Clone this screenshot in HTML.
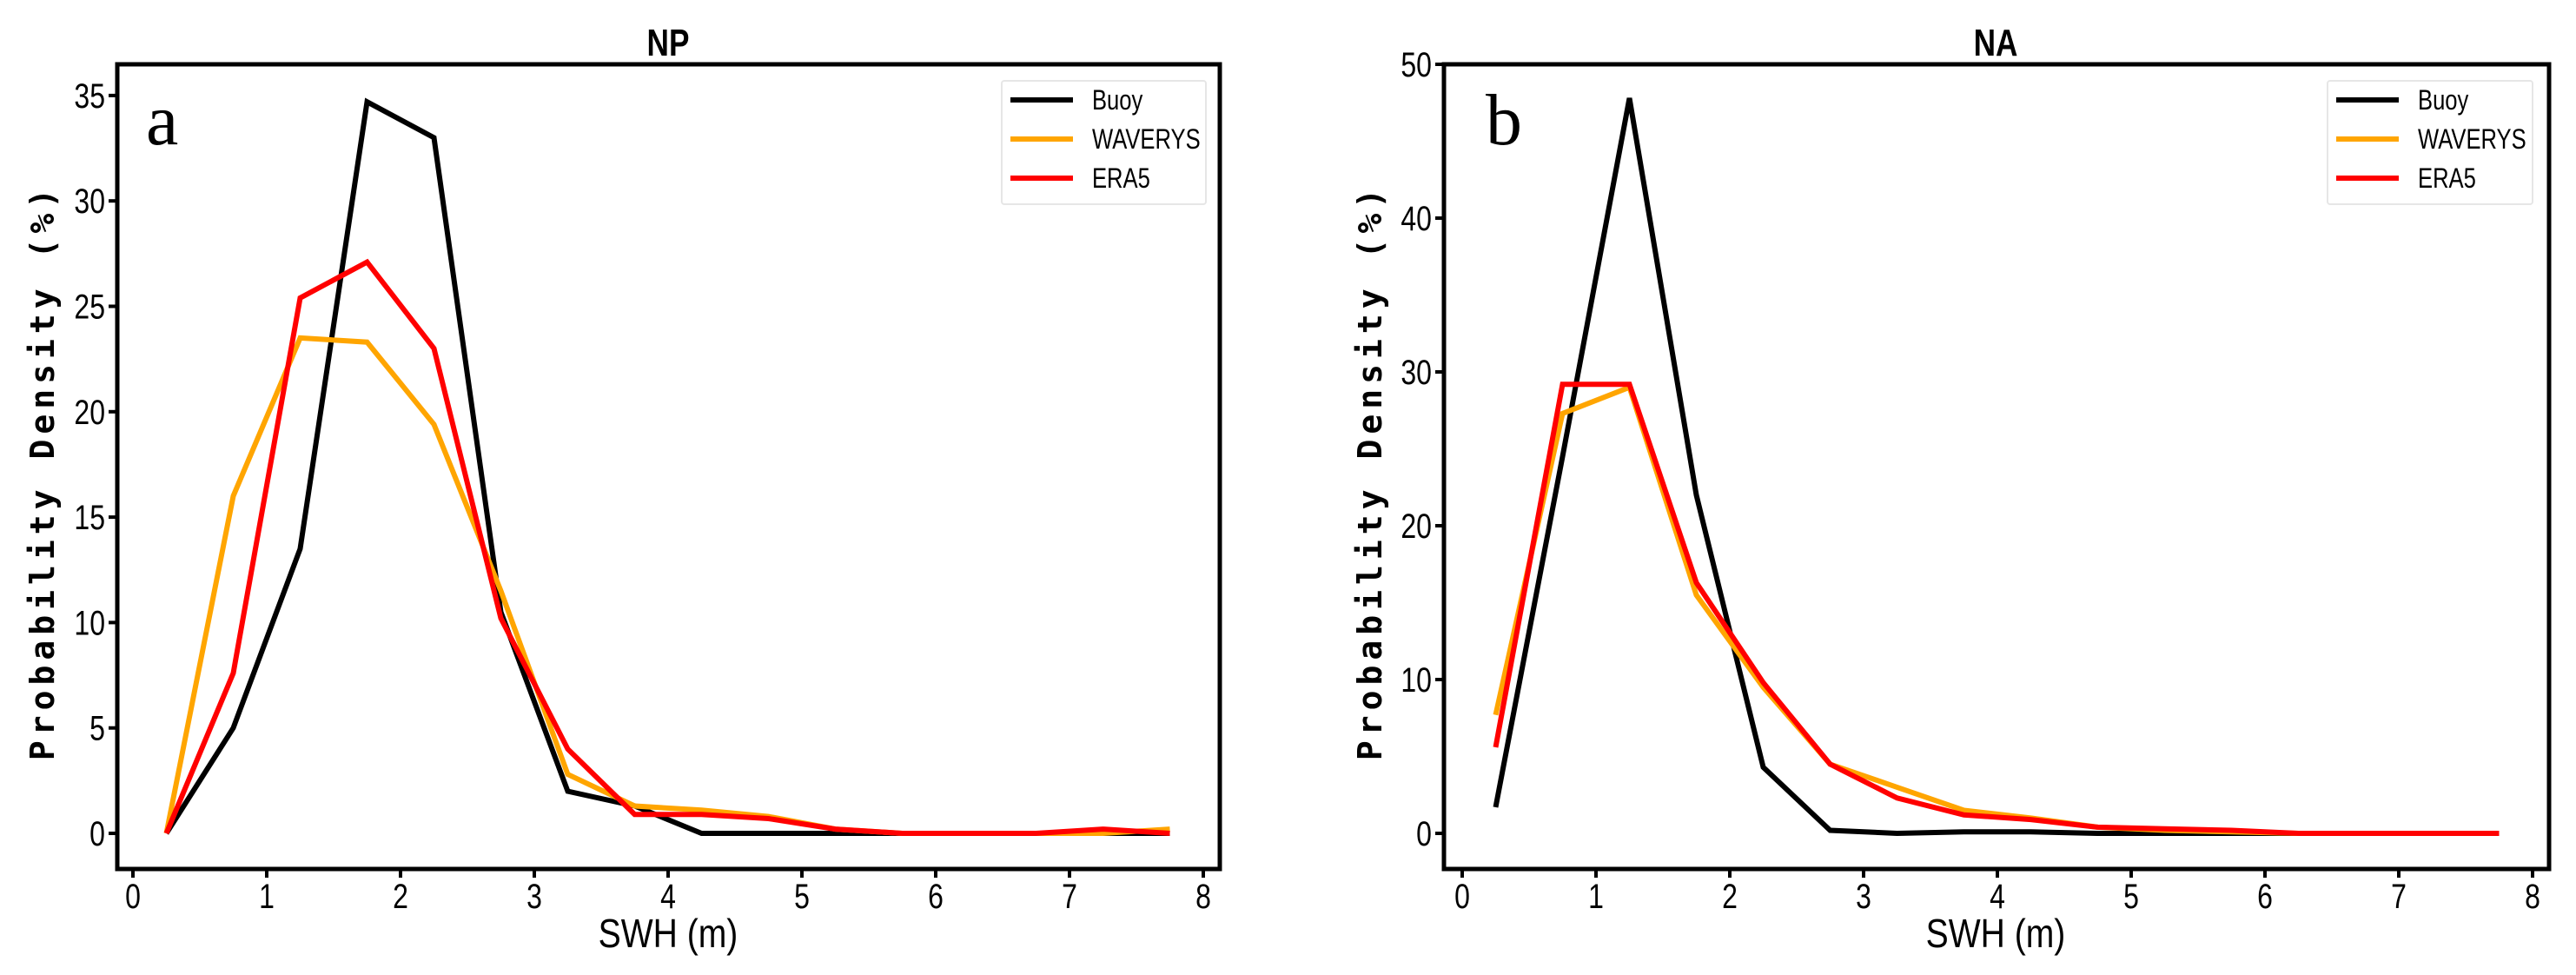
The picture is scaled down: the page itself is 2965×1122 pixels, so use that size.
<!DOCTYPE html>
<html><head><meta charset="utf-8"><style>
html,body{margin:0;padding:0;background:#fff;}
svg{display:block;}
</style></head><body>
<svg id="chart" width="2965" height="1122" xmlns="http://www.w3.org/2000/svg"></svg>
<script>
const xValues = [0.25,0.75,1.25,1.75,2.25,2.75,3.25,3.75,4.25,4.75,5.25,5.75,6.25,6.75,7.25,7.75];
const npBuoy = [0,5,13.5,34.7,33,10.5,2,1.3,0,0,0,0,0,0,0,0];
const npWaverys = [0,16,23.5,23.3,19.4,11.5,2.8,1.3,1.1,0.8,0.2,0,0,0,0,0.2];
const npEra5 = [0,7.6,25.4,27.1,23,10.2,4,0.9,0.9,0.7,0.2,0,0,0,0.2,0];
const naBuoy = [1.7,24.5,47.8,22,4.3,0.2,0,0.1,0.1,0,0,0,0,0,0,0];
const naWaverys = [7.7,27.3,29,15.5,9.5,4.5,3,1.5,1,0.4,0.2,0.1,0,0,0,0];
const naEra5 = [5.6,29.2,29.2,16.3,9.8,4.5,2.3,1.2,0.9,0.4,0.3,0.2,0,0,0,0];
const xTicks = [0,1,2,3,4,5,6,7,8];
const npYTicks = [0,5,10,15,20,25,30,35];
const naYTicks = [0,10,20,30,40,50];
const seriesNames = ["Buoy","WAVERYS","ERA5"];
const seriesColors = ["#000000","#FFA500","#FF0000"];

const NS="http://www.w3.org/2000/svg";
const svg=document.getElementById('chart');
function mk(tag,attrs,parent){const e=document.createElementNS(NS,tag);for(const k in attrs)e.setAttribute(k,attrs[k]);(parent||svg).appendChild(e);return e;}
const tickFont='"Liberation Sans Narrow","Liberation Sans",sans-serif';

function panel(cfg){
  const g=mk('g',{});
  
  
  const x0=cfg.x0, pxPerX=154;
  const sx=v=>x0+v*pxPerX;
  const sy=v=>cfg.y0px-(v)*cfg.pxPerY;
  const data=[cfg.buoy,cfg.wav,cfg.era];
  data.forEach((arr,si)=>{
    const pts=arr.map((v,i)=>sx(xValues[i]).toFixed(1)+','+sy(v).toFixed(1)).join(' ');
    const pl=mk('polyline',{points:pts,fill:'none',stroke:seriesColors[si],'stroke-width':6,'stroke-linejoin':'miter'},g);
    
    
  });
  const fr=mk('rect',{x:cfg.fl,y:74,width:cfg.fr-cfg.fl,height:926,fill:'none',stroke:'#000','stroke-width':5},g);
  
  
  xTicks.forEach(t=>{
    const X=sx(t);
    mk('line',{x1:X,y1:1002,x2:X,y2:1010,stroke:'#000','stroke-width':4},g);
    const tx=mk('text',{x:X,y:1045,'font-size':40,'text-anchor':'middle','font-family':tickFont,transform:`translate(${X},0) scale(0.8,1) translate(${-X},0)`},g);
    tx.textContent=t;
    
    
  });
  cfg.yTicks.forEach(t=>{
    const Y=sy(t);
    mk('line',{x1:cfg.fl-10,y1:Y,x2:cfg.fl-2,y2:Y,stroke:'#000','stroke-width':4},g);
    const tx=mk('text',{x:cfg.fl-14,y:Y+14,'font-size':40,'text-anchor':'end','font-family':tickFont,transform:`translate(${cfg.fl-14},0) scale(0.8,1) translate(${-(cfg.fl-14)},0)`},g);
    tx.textContent=t;
    
    
  });
  const ti=mk('text',{x:cfg.titleX,y:64,'font-size':44,'text-anchor':'middle','font-family':tickFont,'font-weight':'bold',transform:`translate(${cfg.titleX},0) scale(0.8,1) translate(${-cfg.titleX},0)`},g);
  ti.textContent=cfg.title;
  
  
  const xl=mk('text',{x:cfg.titleX,y:1090,'font-size':46,'text-anchor':'middle','font-family':tickFont,transform:`translate(${cfg.titleX},0) scale(0.85,1) translate(${-cfg.titleX},0)`},g);
  xl.textContent='SWH (m)';
  
  
  const yl=mk('text',{x:0,y:0,'font-size':38,'text-anchor':'middle','font-family':'"DejaVu Sans Mono","Liberation Mono",monospace','font-weight':'bold','letter-spacing':'6',transform:`translate(${cfg.ylx},543) rotate(-90)`},g);
  yl.textContent='Probability Density (%)';
  
  
  const pl=mk('text',{x:cfg.letterX,y:166,'font-size':84,'font-family':'"Liberation Serif",serif'},g);
  pl.textContent=cfg.letter;
  
  
  const lg=mk('g',{},g);
  
  
  mk('rect',{x:cfg.lx,y:93,width:cfg.lw,height:142,fill:'#fff',stroke:'#e6e6e6','stroke-width':2,rx:3},lg);
  seriesNames.forEach((n,i)=>{
    const Y=115+i*45;
    const e=mk('g',{},lg);
    
    
    mk('line',{x1:cfg.lx+10,y1:Y,x2:cfg.lx+82,y2:Y,stroke:seriesColors[i],'stroke-width':6},e);
    const t=mk('text',{x:cfg.lx+104,y:Y+11,'font-size':32,'font-family':tickFont,transform:`translate(${cfg.lx+104},0) scale(0.8,1) translate(${-(cfg.lx+104)},0)`},e);
    t.textContent=n;
  });
}
panel({name:'np',title:'NP',letter:'a',x0:153,fl:135,fr:1404,y0px:959,pxPerY:24.26,yTicks:npYTicks,buoy:npBuoy,wav:npWaverys,era:npEra5,titleX:769,ylx:62,letterX:168,lx:1153,lw:235});
panel({name:'na',title:'NA',letter:'b',x0:1683,fl:1662,fr:2934,y0px:959,pxPerY:17.7,yTicks:naYTicks,buoy:naBuoy,wav:naWaverys,era:naEra5,titleX:2297,ylx:1590,letterX:1710,lx:2679,lw:236});
</script>
</body></html>
